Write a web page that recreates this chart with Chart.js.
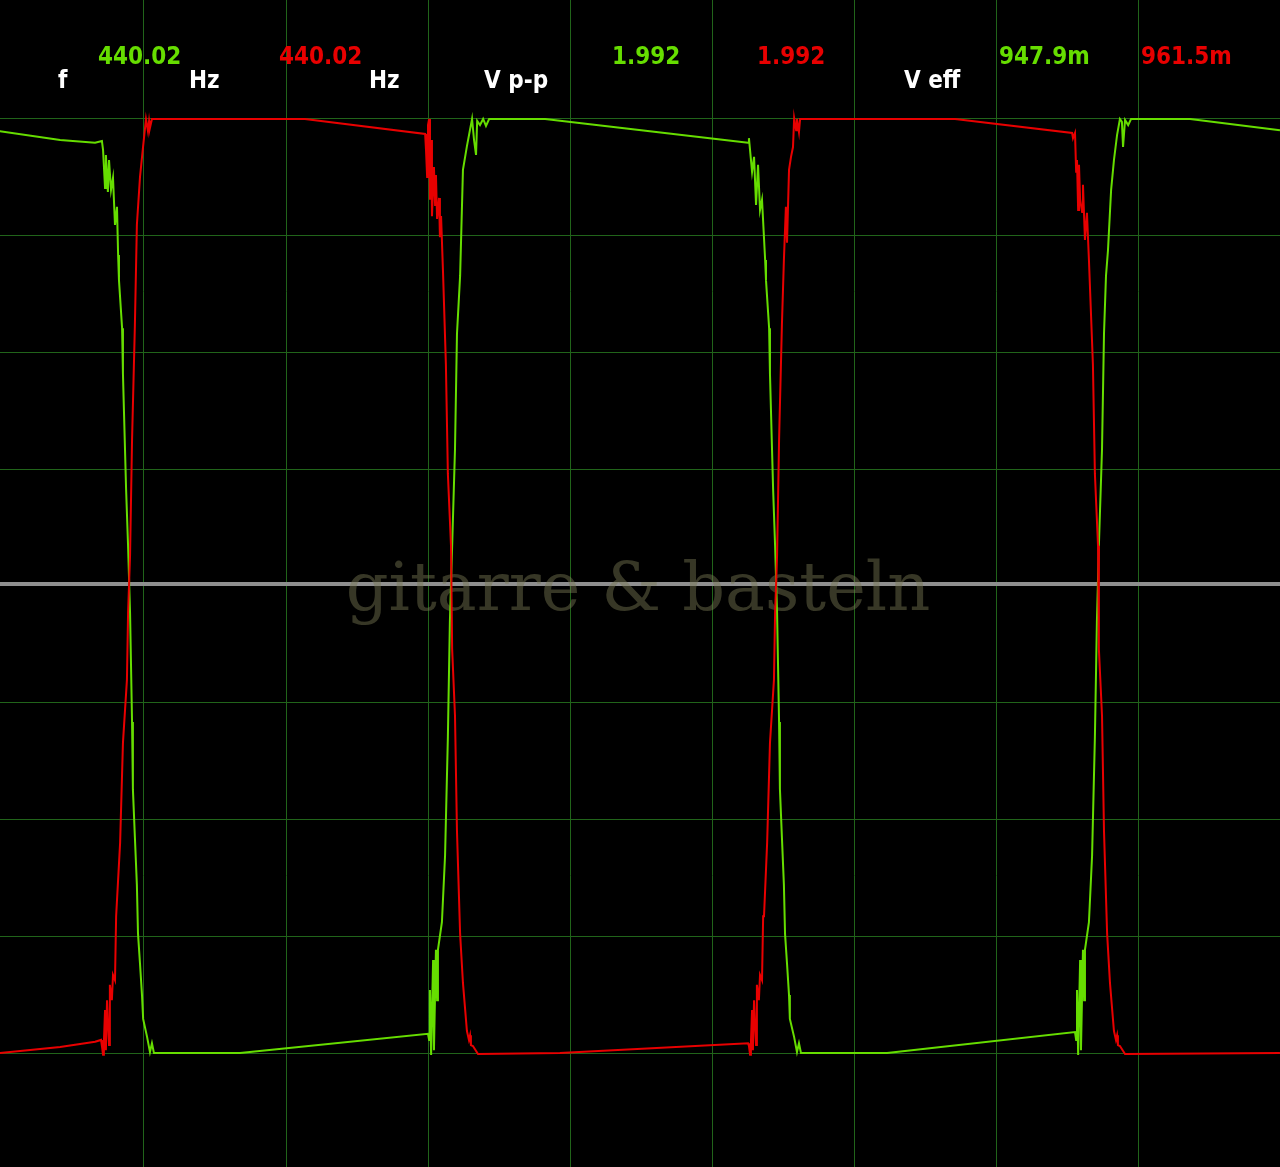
<!DOCTYPE html>
<html>
<head>
<meta charset="utf-8">
<script src="https://cdn.jsdelivr.net/npm/chart.js@4.4.1/dist/chart.umd.min.js"></script>
<style>
  html, body { margin: 0; padding: 0; background: #000; }
  #wrap { position: relative; width: 1280px; height: 1167px; }
</style>
</head>
<body>
<div id="wrap"><canvas id="scope"></canvas></div>
<script>
// time in ms (0.5 ms/div), voltage in V (0.25 V/div)
const greenT = [-0.007, 0.205, 0.328, 0.352, 0.356, 0.363, 0.366, 0.373, 0.377, 0.384, 0.391, 0.398, 0.405, 0.409, 0.412,
  0.423, 0.426, 0.437, 0.444, 0.451, 0.458, 0.461, 0.468, 0.475, 0.479, 0.486, 0.493, 0.497, 0.511, 0.521, 0.528, 0.535,
  0.838, 1.499, 1.503, 1.506, 1.510, 1.517, 1.520, 1.527, 1.531, 1.534, 1.548, 1.559, 1.569, 1.576, 1.584, 1.594, 1.601,
  1.612, 1.622, 1.636, 1.654, 1.661, 1.668, 1.672, 1.682, 1.693, 1.703, 1.714, 1.911, 2.625,
  2.628, 2.639, 2.646, 2.653, 2.660, 2.667, 2.674, 2.685, 2.688, 2.699, 2.702, 2.713, 2.720, 2.727, 2.734, 2.737, 2.744,
  2.751, 2.755, 2.762, 2.769, 2.772, 2.787, 2.797, 2.804, 2.811, 3.114, 3.775, 3.779, 3.782, 3.786, 3.793, 3.796, 3.803,
  3.807, 3.810, 3.824, 3.835, 3.845, 3.852, 3.859, 3.870, 3.877, 3.884, 3.891, 3.902, 3.912, 3.923, 3.933, 3.940, 3.944,
  3.951, 3.962, 3.972, 4.180, 4.496];
const greenV = [0.974, 0.955, 0.949, 0.953, 0.934, 0.852, 0.923, 0.844, 0.912, 0.848, 0.874, 0.773, 0.812, 0.709, 0.655,
  0.552, 0.454, 0.208, 0.086, -0.058, -0.291, -0.435, -0.538, -0.640, -0.745, -0.809, -0.876, -0.927, -0.966, -0.998, -0.979, -1.000,
  -1.000, -0.959, -0.972, -0.865, -1.004, -0.801, -0.994, -0.779, -0.887, -0.779, -0.720, -0.578, -0.323, -0.077, 0.086, 0.293, 0.540,
  0.664, 0.891, 0.942, 1.000, 0.955, 0.923, 0.996, 0.987, 1.000, 0.985, 1.000, 1.000, 0.949,
  0.959, 0.887, 0.919, 0.816, 0.902, 0.805, 0.827, 0.698, 0.655, 0.552, 0.454, 0.208, 0.086, -0.058, -0.291, -0.435, -0.538,
  -0.640, -0.745, -0.809, -0.876, -0.927, -0.966, -0.998, -0.979, -1.000, -1.000, -0.955, -0.972, -0.865, -1.004, -0.801, -0.994, -0.779,
  -0.887, -0.779, -0.720, -0.578, -0.323, -0.077, 0.086, 0.293, 0.540, 0.664, 0.719, 0.848, 0.912, 0.966, 1.000, 0.994, 0.940,
  0.998, 0.987, 1.000, 1.000, 0.976];

const redT = [-0.007, 0.205, 0.328, 0.349, 0.352, 0.356, 0.359, 0.363, 0.366, 0.370, 0.377, 0.380, 0.387, 0.391, 0.398,
  0.402, 0.405, 0.416, 0.426, 0.440, 0.444, 0.451, 0.458, 0.468, 0.475, 0.486, 0.497, 0.507, 0.514, 0.518, 0.521, 0.528,
  1.066, 1.489, 1.492, 1.496, 1.499, 1.503, 1.506, 1.510, 1.513, 1.520, 1.524, 1.527, 1.531, 1.538, 1.541, 1.545, 1.552,
  1.562, 1.569, 1.580, 1.584, 1.594, 1.601, 1.612, 1.622, 1.636, 1.643, 1.647, 1.650, 1.657, 1.675, 1.963, 2.625,
  2.628, 2.632, 2.635, 2.639, 2.642, 2.646, 2.653, 2.656, 2.663, 2.667, 2.674, 2.678, 2.681, 2.692, 2.702, 2.716, 2.720,
  2.727, 2.734, 2.744, 2.751, 2.758, 2.762, 2.769, 2.776, 2.783, 2.787, 2.794, 2.797, 2.804, 2.808, 3.353, 3.765, 3.768,
  3.775, 3.779, 3.782, 3.786, 3.789, 3.793, 3.800, 3.803, 3.810, 3.817, 3.824, 3.838, 3.845, 3.856, 3.859, 3.870, 3.877,
  3.888, 3.898, 3.912, 3.919, 3.923, 3.926, 3.933, 3.951, 4.496];
const redV = [-1.000, -0.987, -0.976, -0.972, -0.985, -1.004, -0.976, -0.908, -0.994, -0.887, -0.983, -0.854, -0.887, -0.833, -0.844,
  -0.707, -0.707, -0.550, -0.336, -0.201, -0.058, 0.066, 0.313, 0.559, 0.773, 0.876, 0.942, 1.000, 0.974, 0.996, 0.981, 1.000,
  1.000, 0.968, 0.934, 0.876, 0.987, 1.000, 0.827, 0.955, 0.792, 0.897, 0.816, 0.880, 0.786, 0.831, 0.747, 0.792, 0.670,
  0.475, 0.240, 0.086, -0.135, -0.278, -0.525, -0.745, -0.850, -0.953, -0.972, -0.962, -0.983, -0.985, -1.002, -1.000, -0.979,
  -0.985, -1.004, -0.976, -0.908, -0.994, -0.887, -0.983, -0.854, -0.887, -0.833, -0.844, -0.707, -0.707, -0.550, -0.336, -0.201, -0.058,
  0.066, 0.313, 0.559, 0.698, 0.812, 0.735, 0.891, 0.919, 0.940, 1.002, 0.976, 1.000, 0.972, 1.000, 1.000, 0.970, 0.959,
  0.970, 0.887, 0.912, 0.805, 0.902, 0.827, 0.801, 0.859, 0.741, 0.799, 0.698, 0.475, 0.240, 0.086, -0.135, -0.278, -0.525,
  -0.745, -0.850, -0.953, -0.972, -0.962, -0.983, -0.985, -1.002, -1.000];

const timeTicks = [0.5, 1.0, 1.5, 2.0, 2.5, 3.0, 3.5, 4.0];
const voltTicks = [-1.0, -0.75, -0.5, -0.25, 0, 0.25, 0.5, 0.75, 1.0];

const labelTexts = ['f', 'Hz', 'Hz', 'V p-p', 'V eff'];
const greenReadings = ['440.02', '1.992', '947.9m'];
const redReadings = ['440.02', '1.992', '961.5m'];
const watermark = 'gitarre & basteln';

const GREEN = '#66dd00';
const RED = '#e80000';
const GRID = '#21641a';

const toPoints = (ts, vs) => ts.map((t, i) => ({ x: t, y: vs[i] }));

const scopeDecor = {
  id: 'scopeDecor',
  beforeDraw(chart) {
    const ctx = chart.ctx;
    ctx.save();
    ctx.fillStyle = '#000';
    ctx.fillRect(0, 0, chart.width, chart.height);
    ctx.restore();
  },
  beforeDatasetsDraw(chart) {
    const ctx = chart.ctx;
    const y0 = chart.scales.y.getPixelForValue(0);
    ctx.save();
    // zero line
    ctx.strokeStyle = '#8f8f8f';
    ctx.lineWidth = 4;
    ctx.beginPath();
    ctx.moveTo(0, y0 - 2);
    ctx.lineTo(chart.width, y0 - 2);
    ctx.stroke();
    // watermark, fitted to its width in the original
    let size = 80;
    ctx.font = size + 'px "DejaVu Serif", "Liberation Serif", serif';
    size = size * 585 / ctx.measureText(watermark).width;
    ctx.font = size.toFixed(1) + 'px "DejaVu Serif", "Liberation Serif", serif';
    ctx.fillStyle = 'rgba(120,120,82,0.46)';
    ctx.textAlign = 'center';
    ctx.textBaseline = 'alphabetic';
    ctx.fillText(watermark, 638, y0 + 24);
    ctx.restore();
  },
  afterDraw(chart) {
    const ctx = chart.ctx;
    ctx.save();
    ctx.textAlign = 'left';
    ctx.textBaseline = 'alphabetic';
    ctx.font = 'bold 24px "DejaVu Sans Condensed", "DejaVu Sans", sans-serif';
    ctx.fillStyle = '#ffffff';
    const lx = [58, 189, 369, 484, 904];
    labelTexts.forEach((t, i) => ctx.fillText(t, lx[i], 88));
    const gx = [98, 612, 999];
    const rx = [279, 757, 1141];
    ctx.fillStyle = GREEN;
    greenReadings.forEach((t, i) => ctx.fillText(t, gx[i], 64));
    ctx.fillStyle = RED;
    redReadings.forEach((t, i) => ctx.fillText(t, rx[i], 64));
    ctx.restore();
  }
};

new Chart(document.getElementById('scope'), {
  type: 'line',
  data: {
    datasets: [
      { label: 'CH2', data: toPoints(redT, redV), borderColor: RED, borderWidth: 2, pointRadius: 0, tension: 0 },
      { label: 'CH1', data: toPoints(greenT, greenV), borderColor: GREEN, borderWidth: 2, pointRadius: 0, tension: 0 }
    ]
  },
  options: {
    responsive: true,
    maintainAspectRatio: false,
    animation: false,
    layout: { padding: 0 },
    plugins: { legend: { display: false }, tooltip: { enabled: false } },
    scales: {
      x: {
        type: 'linear',
        min: -0.0065,
        max: 4.4961,
        afterBuildTicks: s => { s.ticks = timeTicks.map(v => ({ value: v })); },
        afterFit: s => { s.height = 0; },
        ticks: { display: false },
        border: { display: false },
        grid: { color: GRID, lineWidth: 1, drawTicks: false }
      },
      y: {
        type: 'linear',
        min: -1.2441,
        max: 1.2548,
        afterBuildTicks: s => { s.ticks = voltTicks.map(v => ({ value: v })); },
        afterFit: s => { s.width = 0; },
        ticks: { display: false },
        border: { display: false },
        grid: { color: GRID, lineWidth: 1, drawTicks: false }
      }
    }
  },
  plugins: [scopeDecor]
});
</script>
</body>
</html>
